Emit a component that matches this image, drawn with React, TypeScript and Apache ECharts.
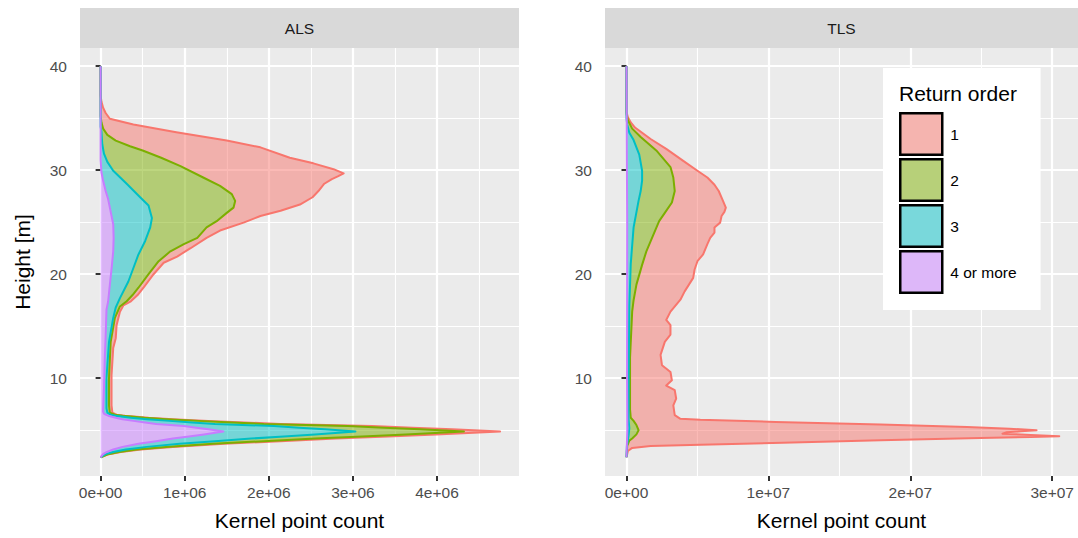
import React, { useEffect, useRef } from 'react';
import * as echarts from 'echarts';

const FONT = 'Liberation Sans, Arial, Helvetica, sans-serif';

// Facets and groups
const panels = ['ALS', 'TLS'];
const groupNames = ['1', '2', '3', '4 or more'];
const lineColors = ['#F8766D', '#7CAE00', '#00BFC4', '#C77CFF'];
const fillColors = ['rgba(248,118,109,0.5)', 'rgba(124,174,0,0.5)', 'rgba(0,191,196,0.5)', 'rgba(199,124,255,0.5)'];
const keyColors = ['#F5B4AF', '#B7D079', '#79D8DB', '#DDB7F9'];

// Axis ranges / units / ticks
const heightRange = [0.6, 41.75];
const heightStep = 10;
const heightTicks = [10, 20, 30, 40];
const ALS_UNIT = 1e6;
const TLS_UNIT = 1e7;
const alsCountRange = [-0.245, 4.975]; // in ALS_UNIT
const tlsCountRange = [-0.1515, 3.182]; // in TLS_UNIT
const alsCountTicks = [0, 1, 2, 3, 4]; // in ALS_UNIT
const tlsCountTicks = [0, 1, 2, 3]; // in TLS_UNIT

// Stacked density outlines: [height m, kernel point count (panel unit)]
const als1: number[][] = [
  [40, 0], [37.2, 0], [36.6, 0.01], [36.0, 0.03], [35.5, 0.06], [34.95, 0.11], [34.4, 0.39], [33.65, 0.9],
  [32.85, 1.5], [32.2, 1.9], [31.2, 2.25], [30.66, 2.53], [30.1, 2.77], [29.7, 2.89], [29.4, 2.82], [29.15, 2.75],
  [28.7, 2.66], [28.0, 2.59], [27.4, 2.52], [26.7, 2.37], [26.1, 2.14], [25.6, 1.9], [24.96, 1.7], [24.2, 1.42],
  [23.5, 1.26], [22.5, 1.07], [21.7, 0.91], [21.1, 0.75], [20.0, 0.63], [18.7, 0.51], [18.0, 0.44], [17.4, 0.36],
  [17.0, 0.27], [16.4, 0.23], [15.1, 0.19], [13.85, 0.18], [12.9, 0.15], [10.3, 0.13], [7.4, 0.13], [6.7, 0.14],
  [6.5, 0.19], [6.4, 0.29], [6.2, 0.57], [6.06, 0.86], [5.9, 1.28], [5.75, 1.71], [5.6, 2.14], [5.4, 3.23],
  [5.25, 3.71], [5.1, 4.18], [4.95, 4.56], [4.88, 4.75],
  [4.8, 4.56], [4.6, 3.99], [4.4, 3.42], [4.2, 2.8], [3.95, 2.14], [3.7, 1.47], [3.4, 0.86], [3.15, 0.48],
  [2.9, 0.24], [2.7, 0.1], [2.5, 0.03], [2.4, 0],
];
const als2: number[][] = [
  [40, 0], [35.2, 0], [34.6, 0.01], [34.0, 0.03], [33.4, 0.08], [32.85, 0.18], [32.3, 0.35], [31.9, 0.5],
  [31.2, 0.72], [30.4, 0.95], [29.3, 1.22], [28.5, 1.42], [27.7, 1.56], [27.05, 1.6], [26.4, 1.58], [25.9, 1.5],
  [25.1, 1.38], [24.5, 1.26], [23.5, 1.15], [22.9, 0.99], [22.2, 0.83], [21.25, 0.69], [20.0, 0.57], [18.7, 0.45],
  [18.0, 0.38], [17.4, 0.31], [16.9, 0.23], [15.8, 0.17], [13.5, 0.12], [10.0, 0.1], [7.4, 0.1], [6.7, 0.11],
  [6.5, 0.17], [6.4, 0.26], [6.2, 0.52], [6.06, 0.78], [5.9, 1.17], [5.75, 1.56], [5.6, 1.94], [5.4, 2.94],
  [5.25, 3.37], [5.1, 3.8], [4.95, 4.15], [4.88, 4.32],
  [4.8, 4.15], [4.6, 3.63], [4.4, 3.11], [4.2, 2.55], [3.95, 1.94], [3.7, 1.34], [3.4, 0.78], [3.15, 0.43],
  [2.9, 0.22], [2.7, 0.09], [2.5, 0.03], [2.4, 0],
];
const als3: number[][] = [
  [40, 0], [34.2, 0], [33.7, 0.01], [32.5, 0.02], [31.6, 0.04], [30.8, 0.08], [29.95, 0.15], [28.7, 0.31],
  [27.4, 0.47], [26.6, 0.57], [25.4, 0.61], [24.5, 0.59], [23.2, 0.53], [21.9, 0.45], [20.6, 0.39], [19.3, 0.33],
  [17.7, 0.23], [16.8, 0.18], [15.8, 0.15], [13.5, 0.1], [10.0, 0.07], [7.1, 0.07], [6.7, 0.08],
  [6.5, 0.12], [6.4, 0.18], [6.2, 0.36], [6.06, 0.55], [5.9, 0.82], [5.75, 1.09], [5.6, 1.36], [5.4, 2.06],
  [5.25, 2.36], [5.1, 2.67], [4.95, 2.91], [4.88, 3.03],
  [4.8, 2.91], [4.6, 2.55], [4.4, 2.18], [4.2, 1.79], [3.95, 1.36], [3.7, 0.94], [3.4, 0.55], [3.15, 0.3],
  [2.9, 0.15], [2.7, 0.06], [2.5, 0.02], [2.4, 0],
];
const als4: number[][] = [
  [40, 0], [31, 0], [29.8, 0.01], [29.0, 0.03], [28.0, 0.06], [27.2, 0.09], [26.4, 0.11], [24.8, 0.15],
  [23.5, 0.155], [22.2, 0.15], [20.5, 0.13], [19.0, 0.11], [17.4, 0.09], [16.6, 0.07], [14, 0.06], [12, 0.05],
  [9, 0.04], [6.8, 0.03],
  [6.6, 0.04], [6.5, 0.06], [6.4, 0.09], [6.2, 0.18], [6.06, 0.26], [5.9, 0.39], [5.75, 0.53], [5.6, 0.66],
  [5.4, 0.99], [5.25, 1.14], [5.1, 1.28], [4.95, 1.4], [4.88, 1.46],
  [4.8, 1.4], [4.6, 1.23], [4.4, 1.05], [4.2, 0.86], [3.95, 0.66], [3.7, 0.45], [3.4, 0.26], [3.15, 0.15],
  [2.9, 0.07], [2.7, 0.03], [2.5, 0.01], [2.4, 0],
];

const tls1: number[][] = [
  [40, 0], [35.6, 0], [35.1, 0.01], [34.6, 0.03], [34.1, 0.06], [33.0, 0.17], [32.05, 0.28], [30.9, 0.4],
  [29.95, 0.5], [29.3, 0.57], [28.6, 0.62], [28.0, 0.65], [27.05, 0.68], [26.4, 0.7], [26.0, 0.69], [25.6, 0.67],
  [24.96, 0.66], [24.5, 0.62], [24.0, 0.62], [23.5, 0.59], [22.9, 0.57], [21.9, 0.54], [21.25, 0.5], [20.45, 0.48],
  [19.65, 0.47], [19.0, 0.44], [18.35, 0.41], [17.55, 0.38], [16.4, 0.31], [15.6, 0.28], [15.1, 0.31], [14.2, 0.31],
  [13.5, 0.27], [12.25, 0.24], [11.25, 0.25], [10.6, 0.31], [9.8, 0.32], [9.3, 0.28], [8.85, 0.34], [8.05, 0.35],
  [7.4, 0.33], [6.45, 0.34], [6.1, 0.38],
  [6.0, 0.52], [5.8, 1.05], [5.54, 1.79], [5.3, 2.4], [5.15, 2.7], [5.0, 2.89], [4.9, 2.78], [4.8, 2.68],
  [4.67, 2.65], [4.55, 2.85], [4.42, 3.05], [4.35, 2.85], [4.25, 2.49], [4.03, 1.79], [3.8, 1.1], [3.6, 0.52],
  [3.48, 0.17], [3.3, 0.04], [3.0, 0.01], [2.4, 0],
];
const tls2: number[][] = [
  [40, 0], [35.4, 0], [34.8, 0.01], [34.0, 0.04], [33.2, 0.1], [31.9, 0.21], [30.3, 0.31], [29.3, 0.33],
  [28.0, 0.34], [26.9, 0.32], [25.9, 0.27], [25.1, 0.23], [23.5, 0.18], [22.2, 0.14], [20.9, 0.11], [19.0, 0.07],
  [17.5, 0.05], [16.4, 0.04], [12, 0.025], [7, 0.025], [6.2, 0.03], [5.9, 0.05], [5.5, 0.07], [5.0, 0.085],
  [4.6, 0.07], [4.2, 0.04], [4.0, 0.02], [3.5, 0.005], [2.4, 0],
];
const tls3: number[][] = [
  [40, 0], [35, 0], [34.4, 0.005], [33.6, 0.02], [32.9, 0.05], [31.5, 0.09], [29.95, 0.11], [29.0, 0.11],
  [28, 0.1], [27.05, 0.085], [24.5, 0.05], [21, 0.03], [17, 0.02], [10, 0.015], [6, 0.015], [5.2, 0.02],
  [4.5, 0.015], [3.5, 0.003], [2.4, 0],
];
const tls4: number[][] = [
  [40, 0], [30, 0.003], [25, 0.005], [10, 0.004], [5, 0.006], [3, 0.001], [2.4, 0],
];
const baseline: number[][] = [[40, 0], [2.4, 0]];

const panelCurves = [
  { curves: [als1, als2, als3, als4], unit: ALS_UNIT, range: alsCountRange, ticks: alsCountTicks },
  { curves: [tls1, tls2, tls3, tls4], unit: TLS_UNIT, range: tlsCountRange, ticks: tlsCountTicks },
];

const gridBoxes = [
  { left: 80, top: 48, width: 439, height: 428 },
  { left: 605, top: 48, width: 473, height: 428 },
];

function sci(v: number): string {
  if (v === 0) return '0e+00';
  const e = Math.floor(Math.log10(Math.abs(v)) + 1e-9);
  const m = Math.round(v / Math.pow(10, e));
  return `${m}e+${String(e).padStart(2, '0')}`;
}
function isMultiple(v: number, step: number): boolean {
  const r = v / step;
  return Math.abs(r - Math.round(r)) < 1e-6;
}

function buildOption() {
  const grids = gridBoxes.map((g) => ({
    ...g,
    show: true,
    backgroundColor: '#EBEBEB',
    borderWidth: 0,
    containLabel: false,
  }));

  const xAxes = panelCurves.map((p, i) => {
    const tickVals = p.ticks.map((t) => t * p.unit);
    return {
      type: 'value',
      gridIndex: i,
      min: p.range[0] * p.unit,
      max: p.range[1] * p.unit,
      splitNumber: 4,
      minInterval: p.unit,
      maxInterval: p.unit,
      axisLine: { show: false },
      axisTick: { show: true, length: 5, customValues: tickVals, lineStyle: { color: '#333333', width: 2 } },
      axisLabel: {
        color: '#4D4D4D',
        fontSize: 15.5,
        fontFamily: FONT,
        margin: 8,
        customValues: tickVals,
        formatter: (v: number) => (isMultiple(v, p.unit) ? sci(v) : ''),
      },
      splitLine: { show: true, lineStyle: { color: '#FFFFFF', width: 2.2 } },
      minorTick: { show: false, splitNumber: 2 },
      minorSplitLine: { show: true, lineStyle: { color: '#FFFFFF', width: 1.1 } },
      name: 'Kernel point count',
      nameLocation: 'middle',
      nameGap: 44,
      nameTextStyle: { fontSize: 21, color: '#000000', fontFamily: FONT, verticalAlign: 'middle' },
    };
  });

  const yAxes = panelCurves.map((_, i) => ({
    type: 'value',
    gridIndex: i,
    min: heightRange[0],
    max: heightRange[1],
    splitNumber: 4,
    minInterval: heightStep,
    maxInterval: heightStep,
    axisLine: { show: false },
    axisTick: { show: true, length: 5, customValues: heightTicks, lineStyle: { color: '#333333', width: 2 } },
    axisLabel: {
      color: '#4D4D4D',
      fontSize: 15.5,
      fontFamily: FONT,
      margin: 13,
      customValues: heightTicks,
      formatter: (v: number) => (isMultiple(v, heightStep) ? String(Math.round(v)) : ''),
    },
    splitLine: { show: true, lineStyle: { color: '#FFFFFF', width: 2.2 } },
    minorTick: { show: false, splitNumber: 2 },
    minorSplitLine: { show: true, lineStyle: { color: '#FFFFFF', width: 1.1 } },
    name: i === 0 ? 'Height [m]' : '',
    nameLocation: 'middle',
    nameGap: 58,
    nameTextStyle: { fontSize: 21, color: '#000000', fontFamily: FONT, verticalAlign: 'middle' },
  }));

  const series: any[] = [];
  panelCurves.forEach((p, pi) => {
    p.curves.forEach((curve, gi) => {
      const lower = gi < p.curves.length - 1 ? p.curves[gi + 1] : baseline;
      series.push({
        type: 'custom',
        name: groupNames[gi],
        coordinateSystem: 'cartesian2d',
        xAxisIndex: pi,
        yAxisIndex: pi,
        silent: true,
        itemStyle: { color: keyColors[gi] },
        data: curve.map(([h, v]) => [v * p.unit, h]),
        renderItem: (params: any, api: any) => {
          if (params.dataIndex !== 0) return null;
          const up = curve.map(([h, v]) => api.coord([v * p.unit, h]));
          const lo = lower
            .slice()
            .reverse()
            .map(([h, v]) => api.coord([v * p.unit, h]));
          return {
            type: 'group',
            children: [
              {
                type: 'polygon',
                shape: { points: up.concat(lo) },
                style: { fill: fillColors[gi], stroke: null },
              },
              {
                type: 'polyline',
                shape: { points: up },
                style: { fill: null, stroke: lineColors[gi], lineWidth: 2, lineJoin: 'round' },
              },
            ],
          };
        },
      });
    });
  });

  const graphic: any[] = [];
  gridBoxes.forEach((g, i) => {
    graphic.push({
      type: 'rect',
      shape: { x: g.left, y: 8, width: g.width, height: 40 },
      style: { fill: '#D9D9D9' },
      silent: true,
    });
    graphic.push({
      type: 'text',
      x: g.left + g.width / 2,
      y: 28,
      style: {
        text: panels[i],
        fill: '#1A1A1A',
        font: `15.5px ${FONT}`,
        align: 'center',
        verticalAlign: 'middle',
        textAlign: 'center',
        textVerticalAlign: 'middle',
      },
      silent: true,
    });
  });
  graphic.push({
    type: 'text',
    x: 899,
    y: 93,
    z: 100,
    style: {
      text: 'Return order',
      fill: '#000000',
      font: `21px ${FONT}`,
      align: 'left',
      verticalAlign: 'middle',
      textAlign: 'left',
      textVerticalAlign: 'middle',
    },
    silent: true,
  });

  return {
    animation: false,
    backgroundColor: '#FFFFFF',
    textStyle: { fontFamily: FONT },
    grid: grids,
    xAxis: xAxes,
    yAxis: yAxes,
    series,
    legend: {
      show: true,
      orient: 'vertical',
      left: 883,
      top: 68,
      itemWidth: 42,
      itemHeight: 41.5,
      itemGap: 2,
      padding: [44, 24, 16, 16],
      backgroundColor: '#FFFFFF',
      selectedMode: false,
      icon: 'rect',
      textStyle: { fontSize: 15.5, color: '#000000', fontFamily: FONT, padding: [0, 0, 0, 3] },
      data: groupNames.map((n, i) => ({
        name: n,
        icon: 'rect',
        itemStyle: { color: keyColors[i], borderColor: '#000000', borderWidth: 2.5 },
      })),
    },
    graphic,
  };
}

export default function App() {
  const ref = useRef<HTMLDivElement>(null);
  useEffect(() => {
    document.body.style.margin = '0';
    if (!ref.current) return;
    const chart = echarts.init(ref.current, undefined, { renderer: 'svg' });
    chart.setOption(buildOption() as any);
    return () => chart.dispose();
  }, []);
  return <div ref={ref} style={{ width: 1078, height: 538 }} />;
}
